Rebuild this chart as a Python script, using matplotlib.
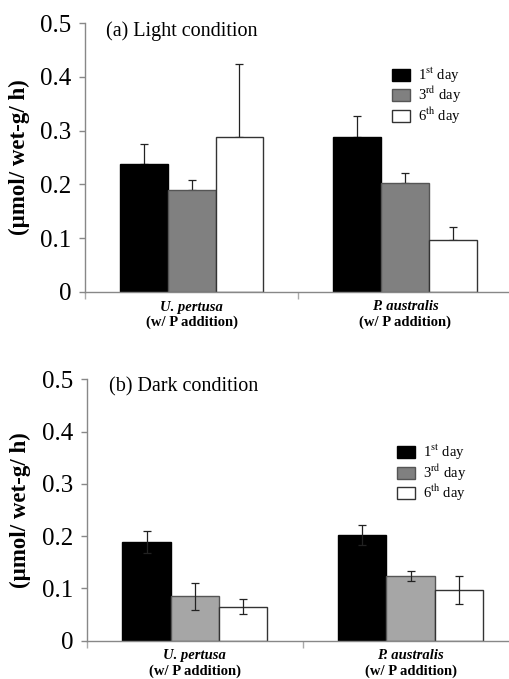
import matplotlib
matplotlib.use("Agg")
import matplotlib.pyplot as plt
import matplotlib.transforms as mtransforms
import numpy as np

plt.rcParams["font.family"] = ["Liberation Serif", "DejaVu Serif"]
plt.rcParams["mathtext.fontset"] = "stix"

species = ["U. pertusa", "P. australis"]
days = ["1$^{\\mathrm{st}}$ day", "3$^{\\mathrm{rd}}$ day", "6$^{\\mathrm{th}}$ day"]

# light condition: means and (upper) errors, rows = day, cols = species
light_mean = [[0.238, 0.289], [0.189, 0.203], [0.288, 0.096]]
light_err = [[0.038, 0.039], [0.020, 0.019], [0.136, 0.025]]

# dark condition
dark_mean = [[0.189, 0.203], [0.085, 0.124], [0.065, 0.097]]
dark_err = [[0.021, 0.019], [0.026, 0.009], [0.014, 0.026]]

fig = plt.figure(figsize=(5.10, 6.79), dpi=100)
ax_a = fig.add_axes([85 / 510, 1 - 292 / 679, 426.6 / 510, 269 / 679])
ax_b = fig.add_axes([87 / 510, 1 - 640.7 / 679, 431.4 / 510, 261.4 / 679])

width = 0.224
x = np.arange(len(species))


def draw_panel(ax, means, errs, fills, edges, title, one_sided, leg_anchor):
    for i, (m, e) in enumerate(zip(means, errs)):
        pos = x + (i - 1) * width
        yerr = [np.zeros(len(e)), e] if one_sided else e
        ax.bar(pos, m, width, color=fills[i], edgecolor=edges[i],
               linewidth=1.0, zorder=2)
        ax.errorbar(pos, m, yerr=yerr, fmt="none", ecolor="#222222",
                    elinewidth=0.9, capsize=3, capthick=0.9,
                    zorder=1 if one_sided else 3)

    ax.set_xlim(-0.5, 1.5)
    ax.set_ylim(0, 0.5)
    ax.set_yticks([0, 0.1, 0.2, 0.3, 0.4, 0.5])
    ax.set_yticklabels(["0", "0.1", "0.2", "0.3", "0.4", "0.5"], fontsize=18)
    ax.set_xticks([-0.5, 0.5, 1.5])
    ax.set_xticklabels([])
    ax.tick_params(axis="y", length=4, color="#888888", width=1, pad=6)
    ax.tick_params(axis="x", length=5, color="#aaaaaa", width=1)
    for side in ["top", "right"]:
        ax.spines[side].set_visible(False)
    for side in ["left", "bottom"]:
        ax.spines[side].set_color("#888888")
        ax.spines[side].set_linewidth(1.0)

    ax.set_ylabel("(µmol/ wet-g/ h)", fontsize=16.5, fontweight="bold")
    ax.yaxis.set_label_coords(-0.13, 0.5)

    # species names under each group, offset in pixels below the axis
    base = mtransforms.blended_transform_factory(ax.transData, ax.transAxes)
    for xi, name in zip(x, species):
        t1 = base + mtransforms.ScaledTranslation(0, -15 / 100, fig.dpi_scale_trans)
        t2 = base + mtransforms.ScaledTranslation(0, -30.5 / 100, fig.dpi_scale_trans)
        ax.text(xi, 0, name, transform=t1, ha="center", va="center",
                fontsize=10.5, fontweight="bold", style="italic")
        ax.text(xi, 0, "(w/ P addition)", transform=t2, ha="center",
                va="center", fontsize=10.5, fontweight="bold")

    ax.text(0.05, 0.97, title, transform=ax.transAxes, ha="left", va="center",
            fontsize=14.5)

    leg_handles = [plt.Rectangle((0, 0), 1, 1, facecolor=c, edgecolor=ec, linewidth=1.0)
                   for c, ec in zip(["black", "#808080", "white"],
                                    ["black", "#555555", "#333333"])]
    ax.legend(leg_handles, days, loc="upper left", bbox_to_anchor=leg_anchor,
              frameon=False, fontsize=10.5, handlelength=1.25, handleheight=0.9,
              handletextpad=0.5, labelspacing=0.0, borderaxespad=0,
              borderpad=0)


draw_panel(ax_a, light_mean, light_err,
           ["black", "#808080", "white"], ["black", "#555555", "#333333"],
           "(a) Light condition", True, (0.72, 0.84))
draw_panel(ax_b, dark_mean, dark_err,
           ["black", "#a6a6a6", "white"], ["black", "#555555", "#333333"],
           "(b) Dark condition", False, (0.719, 0.755))

fig.savefig("out.png", dpi=100)
